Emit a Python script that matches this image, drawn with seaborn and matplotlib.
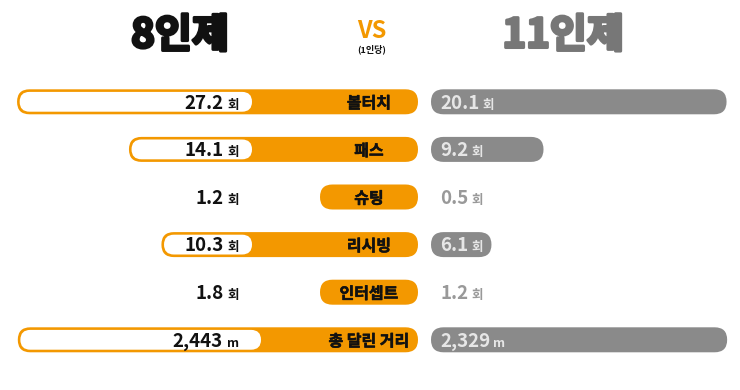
import matplotlib
matplotlib.use('Agg')
import matplotlib.pyplot as plt
import matplotlib.patheffects as pe
from matplotlib.patches import FancyBboxPatch
import pandas as pd
import seaborn as sns

# Data (per player)
stats = ['볼터치', '패스', '슈팅', '리시빙', '인터셉트', '총 달린 거리']
units = ['회', '회', '회', '회', '회', 'm']
eight_a_side = [27.2, 14.1, 1.2, 10.3, 1.8, 2443]
eleven_a_side = [20.1, 9.2, 0.5, 6.1, 1.2, 2329]
title_left = '8인제'
title_right = '11인제'

ORANGE = '#f39800'
GREY_BAR = '#8a8a8a'
GREY_TXT = '#999999'
ON_BAR_TXT = '#e6e6e6'
DARK = '#111111'
MIN_BAR = 5  # small values get no bar

sns.set_theme(style='white')
plt.rcParams['font.family'] = ['Noto Sans CJK KR', 'DejaVu Sans']

df = pd.DataFrame({'stat': stats, 'unit': units, 'v8': eight_a_side, 'v11': eleven_a_side})

W, H = 740, 390
ROW0, STEP = 78, 47.6
BAR_H, INSET = 25, 2.6
LABEL_L, LABEL_R, LABEL_X = 320, 418, 369
R_START = 431
VAL8_X, VAL11_X, BASE = 239, 440, 6.8


def box(x0, x1, y0, y1):
    return [x0 / W, 1 - y1 / H, (x1 - x0) / W, (y1 - y0) / H]


fig = plt.figure(figsize=(W / 100, H / 100), dpi=100)
canvas = fig.add_axes([0, 0, 1, 1])
canvas.set_xlim(0, W)
canvas.set_ylim(H, 0)
canvas.axis('off')
renderer = fig.canvas.get_renderer()
to_px = canvas.transData.inverted()


def pill(x0, x1, yc, h, color, z=2):
    canvas.add_patch(FancyBboxPatch((x0, yc - h / 2), x1 - x0, h,
                                    boxstyle=f'round,pad=0,rounding_size={h / 2}',
                                    fc=color, ec='none', zorder=z))


def px_extent(p):
    bb = p.get_window_extent()
    (x0, y0), (x1, y1) = to_px.transform([[bb.x0, bb.y0], [bb.x1, bb.y1]])
    return min(x0, x1), max(x0, x1), (y0 + y1) / 2


def fmt(v, unit):
    return f'{v:,.0f}' if unit == 'm' else f'{v:.1f}'


def heavy(color, lw):
    return [pe.withStroke(linewidth=lw, foreground=color)]


def value_left(yc, num, unit, color):
    u = canvas.text(VAL8_X, yc + BASE, unit, ha='right', va='baseline',
                    fontsize=9, fontweight='bold', color=color, zorder=5)
    w = u.get_window_extent(renderer).width
    canvas.text(VAL8_X - w - 4, yc + BASE, num, ha='right', va='baseline',
                fontsize=13.5, fontweight='bold', color=color, zorder=5)


def value_right(yc, num, unit, color):
    n = canvas.text(VAL11_X, yc + BASE, num, ha='left', va='baseline',
                    fontsize=13.5, fontweight='bold', color=color, zorder=5)
    w = n.get_window_extent(renderer).width
    canvas.text(VAL11_X + w + 3, yc + BASE, unit, ha='left', va='baseline',
                fontsize=9, fontweight='bold', color=color, zorder=5)


# counts and distance each get their own scale
groups = [
    (df[df['unit'] == '회'].reset_index(drop=True), ROW0, (29.5, 0), (2.5, 20.9), 252),
    (df[df['unit'] == 'm'].reset_index(drop=True), ROW0 + 5 * STEP, (2650, 0), (0, 2430), 261),
]

for sub, top, lim8, lim11, origin in groups:
    bottom = top + len(sub) * STEP
    ax8 = fig.add_axes(box(0, origin, top, bottom))
    ax11 = fig.add_axes(box(R_START, W, top, bottom))
    sns.barplot(data=sub, x='v8', y='stat', ax=ax8, color='white', width=0.42, errorbar=None)
    sns.barplot(data=sub, x='v11', y='stat', ax=ax11, color=GREY_BAR, width=0.525, errorbar=None)
    for ax, lim in ((ax8, lim8), (ax11, lim11)):
        ax.set_xlim(*lim)
        ax.set_ylim(len(sub) - 0.5, -0.5)
        ax.axis('off')
        ax.patch.set_alpha(0)

    for p, (_, r) in zip(list(ax8.patches), sub.iterrows()):
        x0, x1, yc = px_extent(p)
        p.remove()
        if r['v8'] >= MIN_BAR:
            pill(x0 - INSET, LABEL_R, yc, BAR_H, ORANGE)
            pill(x0, x1, yc, BAR_H - 2 * INSET, 'white', 3)
        else:
            pill(LABEL_L, LABEL_R, yc, BAR_H, ORANGE)
        canvas.text(LABEL_X, yc, r['stat'], ha='center', va='center_baseline',
                    fontsize=11.5, fontweight='bold', color=DARK, zorder=5,
                    path_effects=heavy(DARK, 0.4))
        value_left(yc, fmt(r['v8'], r['unit']), r['unit'], DARK)

    for p, (_, r) in zip(list(ax11.patches), sub.iterrows()):
        x0, x1, yc = px_extent(p)
        p.remove()
        on = r['v11'] >= MIN_BAR
        if on:
            pill(max(x0, R_START), x1, yc, BAR_H, GREY_BAR)
        value_right(yc, fmt(r['v11'], r['unit']), r['unit'], ON_BAR_TXT if on else GREY_TXT)

# headers
canvas.text(180, 36, title_left, ha='center', va='center', fontsize=29,
            fontweight='bold', color=DARK, path_effects=heavy(DARK, 2.2))
canvas.text(563, 36, title_right, ha='center', va='center', fontsize=29,
            fontweight='bold', color='#777777', path_effects=heavy('#777777', 2.2))
canvas.text(372, 31, 'VS', ha='center', va='center', fontsize=17,
            fontweight='bold', color=ORANGE)
canvas.text(372, 49, '(1인당)', ha='center', va='center', fontsize=6.5,
            fontweight='bold', color=DARK)

fig.savefig('out.png', dpi=100, facecolor='white')
